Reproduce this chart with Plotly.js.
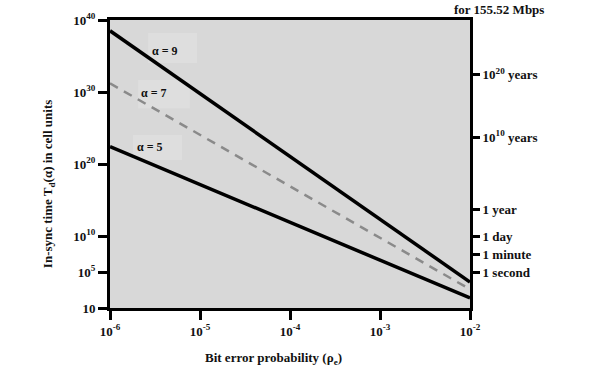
<!DOCTYPE html>
<html>
<head>
<meta charset="utf-8">
<script src="https://cdn.plot.ly/plotly-3.0.1.min.js"></script>
<style>html,body{margin:0;padding:0;background:#fff;}</style>
</head>
<body>
<div id="chart" style="width:609px;height:376px;"></div>
<script>
// Bit error probability endpoints
const berX = [1e-6, 1e-2];
// In-sync time (cell units), log10 values
const alpha9 = [Math.pow(10, 38.5), Math.pow(10, 3.6)];
const alpha7 = [Math.pow(10, 31.2), Math.pow(10, 2.6)];
const alpha5 = [Math.pow(10, 22.4), Math.pow(10, 1.4)];

const xTickVals = [1e-6, 1e-5, 1e-4, 1e-3, 1e-2];
const xTickText = ['10<sup>-6</sup>', '10<sup>-5</sup>', '10<sup>-4</sup>', '10<sup>-3</sup>', '10<sup>-2</sup>'];
const yTickVals = [1, 1e5, 1e10, 1e20, 1e30, 1e40];
const yTickText = ['10', '10<sup>5</sup>', '10<sup>10</sup>', '10<sup>20</sup>', '10<sup>30</sup>', '10<sup>40</sup>'];
const y2TickVals = [Math.pow(10, 32.4), Math.pow(10, 23.75), Math.pow(10, 13.75), Math.pow(10, 10), Math.pow(10, 7.5), Math.pow(10, 5)];
const y2TickText = ['10<sup>20</sup> years', '10<sup>10</sup> years', '1 year', '1 day', '1 minute', '1 second'];
const curveLabels = ['\u03b1 = 9', '\u03b1 = 7', '\u03b1 = 5'];

const FAM = "'Liberation Serif', 'Times New Roman', serif";
const boldFont = function(sz){ return {family: FAM, size: sz, color: '#111', weight: 'bold'}; };

const traces = [
  {x: berX, y: alpha9, mode: 'lines', line: {color: '#000', width: 3.5}, showlegend: false, hoverinfo: 'skip'},
  {x: berX, y: alpha7, mode: 'lines', line: {color: '#8a8a8a', width: 2.5, dash: '9px,7px'}, showlegend: false, hoverinfo: 'skip'},
  {x: berX, y: alpha5, mode: 'lines', line: {color: '#000', width: 3.5}, showlegend: false, hoverinfo: 'skip'},
  {x: berX, y: alpha5, yaxis: 'y2', mode: 'lines', line: {width: 0}, opacity: 0, showlegend: false, hoverinfo: 'skip'}
];

const boxColor = '#dedede';
function labelBox(x0, x1, y0, y1) {
  return {type: 'rect', xref: 'paper', yref: 'paper', x0: x0, x1: x1, y0: y0, y1: y1,
          fillcolor: boxColor, line: {width: 0}, layer: 'below'};
}

const layout = {
  width: 609, height: 376,
  margin: {l: 110, r: 139, t: 20, b: 68},
  paper_bgcolor: '#fff',
  plot_bgcolor: '#d8d8d8',
  font: {family: FAM, size: 13, color: '#111'},
  xaxis: {
    type: 'log', range: [-6, -2], tickvals: xTickVals, ticktext: xTickText,
    showgrid: false, zeroline: false, showline: true, linecolor: '#000', linewidth: 3,
    ticks: 'outside', ticklen: 9, tickwidth: 3, tickcolor: '#000',
    tickfont: boldFont(13), mirror: true
  },
  yaxis: {
    type: 'log', range: [0, 40], tickvals: yTickVals, ticktext: yTickText,
    showgrid: false, zeroline: false, showline: true, linecolor: '#000', linewidth: 3,
    ticks: 'outside', ticklen: 9, tickwidth: 3, tickcolor: '#000',
    tickfont: boldFont(13), mirror: true
  },
  yaxis2: {
    type: 'log', range: [0, 40], overlaying: 'y', side: 'right',
    tickvals: y2TickVals, ticktext: y2TickText,
    showgrid: false, zeroline: false, showline: false,
    ticks: 'outside', ticklen: 9, tickwidth: 3, tickcolor: '#000',
    tickfont: boldFont(13)
  },
  shapes: [
    labelBox(0.106, 0.242, 0.851, 0.955),
    labelBox(0.078, 0.222, 0.694, 0.792),
    labelBox(0.064, 0.200, 0.514, 0.601)
  ],
  annotations: [
    {xref: 'x', yref: 'y', x: -5.394, y: 35.69, text: curveLabels[0], showarrow: false, font: boldFont(12)},
    {xref: 'x', yref: 'y', x: -5.511, y: 29.86, text: curveLabels[1], showarrow: false, font: boldFont(12)},
    {xref: 'x', yref: 'y', x: -5.561, y: 22.36, text: curveLabels[2], showarrow: false, font: boldFont(12)},
    {xref: 'paper', yref: 'paper', x: 1.08, y: 1.0, yanchor: 'bottom', yshift: 1, xanchor: 'center',
     text: 'for 155.52 Mbps', showarrow: false, font: boldFont(13)},
    {xref: 'paper', yref: 'paper', x: 0.453, y: 0, yanchor: 'top', yshift: -40, xanchor: 'center',
     text: 'Bit error probability (\u03c1<sub>e</sub>)', showarrow: false, font: boldFont(13)},
    {xref: 'paper', yref: 'paper', x: 0, xshift: -62, y: 0.43, yanchor: 'middle', xanchor: 'center', textangle: -90,
     text: 'In-sync time T<sub>d</sub>(\u03b1) in cell units', showarrow: false, font: boldFont(13)}
  ]
};

Plotly.newPlot('chart', traces, layout, {displayModeBar: false, staticPlot: true});
</script>
</body>
</html>
